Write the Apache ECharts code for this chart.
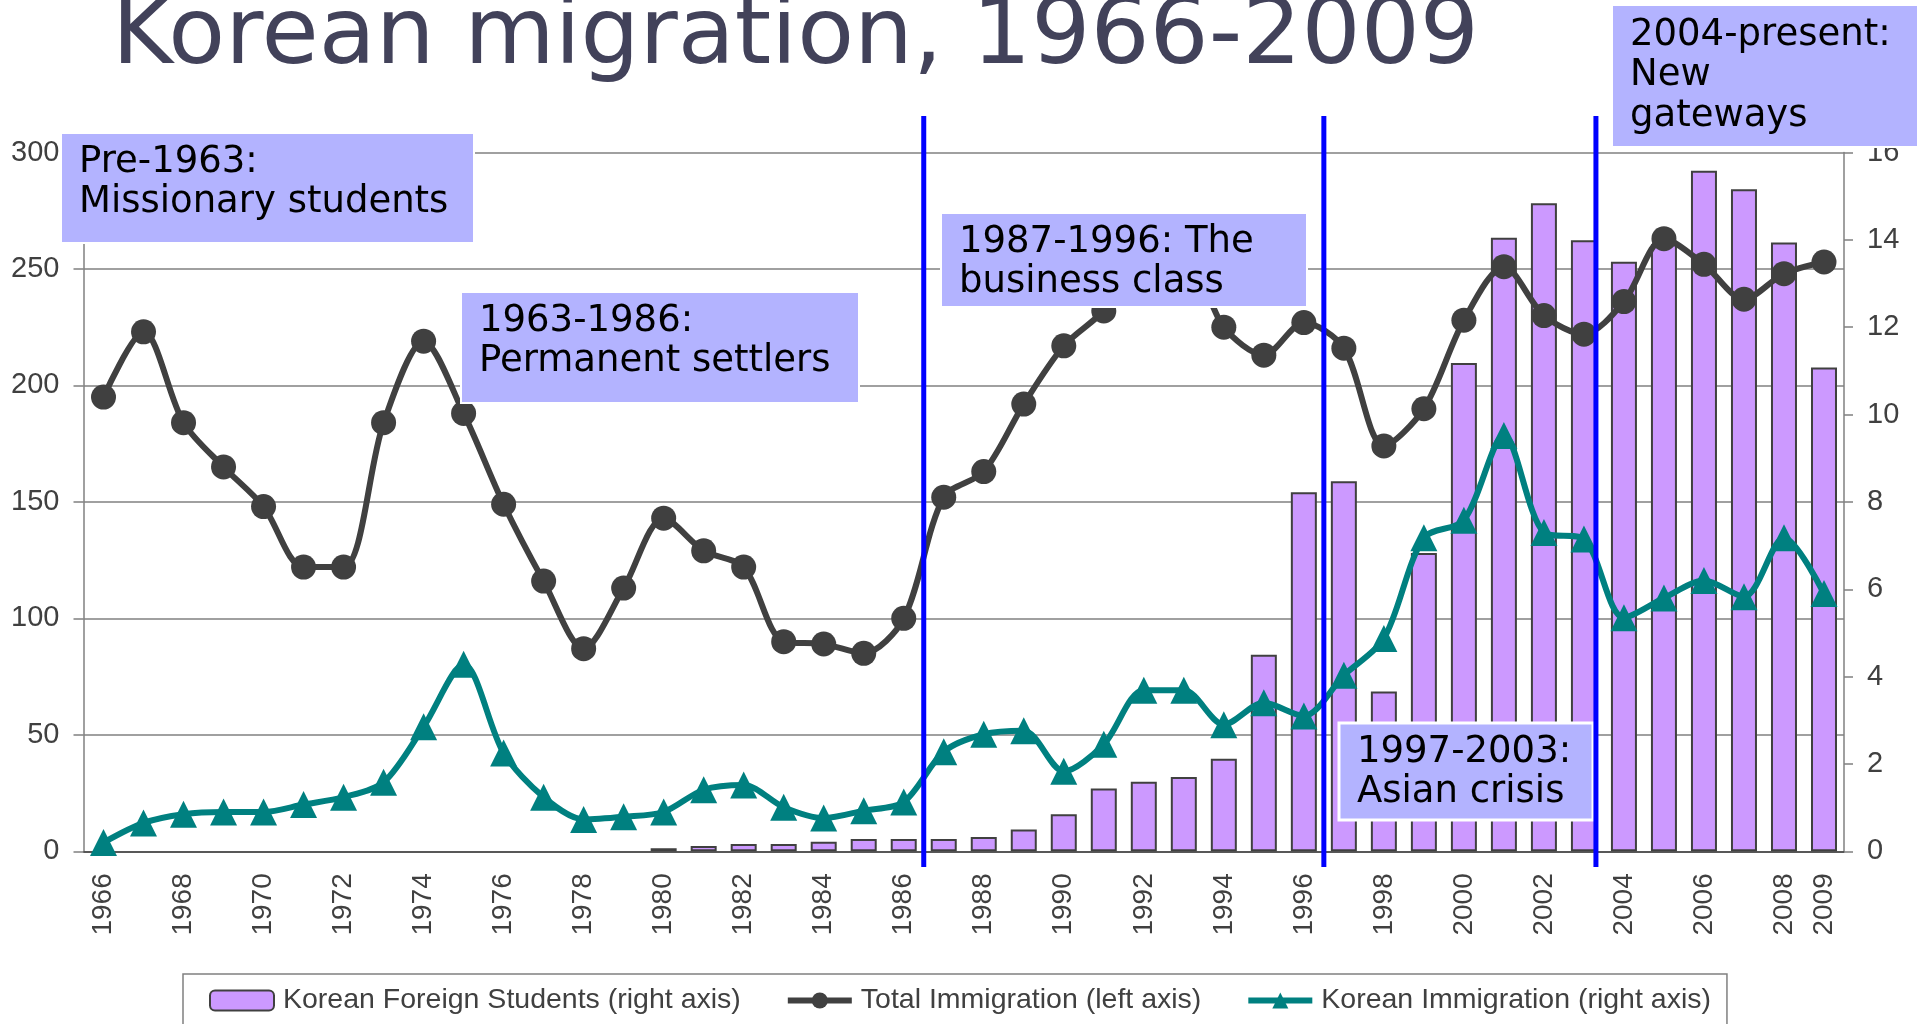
<!DOCTYPE html>
<html>
<head>
<meta charset="utf-8">
<title>Korean migration, 1966-2009</title>
<script src="https://cdn.jsdelivr.net/npm/echarts@6.0.0/dist/echarts.min.js"></script>
<style>
  html, body { margin: 0; padding: 0; background: #fff; }
  #chart { width: 1925px; height: 1024px; }
</style>
</head>
<body>
<div id="chart"></div>
<script>
const years = [
  '1966', '1967', '1968', '1969', '1970', '1971', '1972', '1973', '1974', '1975',
  '1976', '1977', '1978', '1979', '1980', '1981', '1982', '1983', '1984', '1985',
  '1986', '1987', '1988', '1989', '1990', '1991', '1992', '1993', '1994', '1995',
  '1996', '1997', '1998', '1999', '2000', '2001', '2002', '2003', '2004', '2005',
  '2006', '2007', '2008', '2009'
]

// thousands, left axis
const totalImmigration = [
  195, 223, 184, 165, 148, 122, 122, 184, 219, 188,
  149, 116, 87, 113, 143, 129, 122, 90, 89, 85,
  100, 152, 163, 192, 217, 232, 254, 256, 225, 213,
  227, 216, 174, 190, 228, 251, 230, 222, 236, 263,
  252, 237, 248, 253
]

// thousands, right axis
const koreanImmigration = [
  0.2, 0.65, 0.85, 0.9, 0.9, 1.07, 1.24, 1.58, 2.85, 4.28,
  2.25, 1.24, 0.73, 0.79, 0.9, 1.41, 1.52, 1.01, 0.76, 0.93,
  1.13, 2.28, 2.68, 2.76, 1.83, 2.45, 3.69, 3.69, 2.9, 3.4,
  3.1, 4.03, 4.87, 7.18, 7.58, 9.52, 7.3, 7.15, 5.35, 5.8,
  6.2, 5.83, 7.18, 5.9
]

// thousands, right axis (no bar before 1980)
const foreignStudents = [
  null, null, null, null, null, null, null, null, null, null,
  null, null, null, null, 0.07, 0.12, 0.17, 0.17, 0.22, 0.28,
  0.28, 0.28, 0.33, 0.5, 0.85, 1.44, 1.59, 1.7, 2.12, 4.5,
  8.22, 8.47, 3.66, 6.83, 11.18, 14.05, 14.84, 13.99, 13.5, 13.9,
  15.58, 15.16, 13.94, 11.08
]

const seriesNames = [
  'Korean Foreign Students (right axis)',
  'Total Immigration (left axis)',
  'Korean Immigration (right axis)'
]

// era boundaries, in years (x between two category centres)
const eraBreaks = [1986.5, 1996.5, 2003.3]

const eraLabels = [
  ['Pre-1963:', 'Missionary students'],
  ['1963-1986:', 'Permanent settlers'],
  ['1987-1996: The', 'business class'],
  ['2004-present:', 'New', 'gateways'],
  ['1997-2003:', 'Asian crisis']
]

const titleText = 'Korean migration, 1966-2009'

// box layout for each era label: [x, y, w, h, text offset top]
const eraBoxes = [
  [61, 133, 413, 110, 9],
  [461, 292, 398, 111, 9],
  [941, 213, 366, 94, 9],
  [1612, 5, 306, 142, 10],
  [1339, 723, 254, 97, 9]
]

const AXIS_FONT = 'Liberation Sans, Arial, sans-serif'
const BOX_FONT = 'DejaVu Sans, Verdana, sans-serif'
const labelColor = '#404040'
const gridColor = '#808080'

const chart = echarts.init(document.getElementById('chart'), null, { renderer: 'canvas' })

const option = {
  animation: false,
  backgroundColor: '#fff',
  grid: {
    left: 83.5,
    right: 81,
    top: 152.5,
    bottom: 172.7
  },
  legend: {
    data: seriesNames,
    left: 183,
    top: 974,
    padding: [12, 16, 14, 26],
    itemGap: 44,
    itemWidth: 64,
    itemHeight: 20,
    borderColor: gridColor,
    borderWidth: 1.5,
    lineStyle: { width: 6 },
    textStyle: {
      fontFamily: AXIS_FONT,
      fontSize: 28.5,
      color: labelColor,
      padding: [0, 0, 0, 4]
    }
  },
  xAxis: {
    type: 'category',
    data: years,
    boundaryGap: true,
    axisLine: { lineStyle: { color: labelColor, width: 1.5 } },
    axisTick: { interval: 0, length: 9, lineStyle: { color: gridColor, width: 1.5 } },
    axisLabel: {
      rotate: 90,
      margin: 22,
      fontFamily: AXIS_FONT,
      fontSize: 28,
      color: labelColor,
      interval: (i) => i % 2 === 0 || i === years.length - 1
    },
    splitLine: { show: false }
  },
  yAxis: [
    {
      type: 'value',
      min: 0,
      max: 300,
      interval: 50,
      axisLine: { show: true, lineStyle: { color: gridColor, width: 1.5 } },
      axisTick: { show: true, length: 10, lineStyle: { color: gridColor, width: 1.5 } },
      axisLabel: { margin: 24, fontFamily: AXIS_FONT, fontSize: 29, color: labelColor },
      splitLine: { lineStyle: { color: gridColor, width: 1.5 } }
    },
    {
      type: 'value',
      min: 0,
      max: 16,
      interval: 2,
      axisLine: { show: true, lineStyle: { color: gridColor, width: 1.5 } },
      axisTick: { show: true, length: 9, lineStyle: { color: gridColor, width: 1.5 } },
      axisLabel: { margin: 23, fontFamily: AXIS_FONT, fontSize: 29, color: labelColor },
      splitLine: { show: false }
    }
  ],
  series: [
    {
      name: seriesNames[0],
      type: 'bar',
      yAxisIndex: 1,
      data: foreignStudents,
      barWidth: 26,
      itemStyle: { color: '#CC99FF', borderColor: '#404040', borderWidth: 2 },
      z: 2
    },
    {
      name: seriesNames[1],
      type: 'line',
      yAxisIndex: 0,
      data: totalImmigration,
      smooth: 0.3,
      symbol: 'circle',
      symbolSize: 25,
      showAllSymbol: true,
      lineStyle: { color: '#404040', width: 6 },
      itemStyle: { color: '#404040' },
      z: 4
    },
    {
      name: seriesNames[2],
      type: 'line',
      yAxisIndex: 1,
      data: koreanImmigration,
      smooth: 0.3,
      symbol: 'triangle',
      symbolSize: 27,
      showAllSymbol: true,
      lineStyle: { color: '#008080', width: 6 },
      itemStyle: { color: '#008080' },
      z: 3
    }
  ]
}

chart.setOption(option)

// x of a fractional year, through the category axis
function yearToPixel (y) {
  const lo = Math.floor(y)
  const frac = y - lo
  const a = chart.convertToPixel({ xAxisIndex: 0 }, String(lo))
  const b = chart.convertToPixel({ xAxisIndex: 0 }, String(lo + 1))
  return a + frac * (b - a)
}

function buildGraphics () {
  const elements = []

  elements.push({
    type: 'text',
    x: 112,
    y: -8,
    z: 120,
    style: {
      text: titleText,
      font: '93px ' + BOX_FONT,
      fill: '#42425a',
      verticalAlign: 'top'
    }
  })

  eraBoxes.forEach((box, i) => {
    const [x, y, w, h, off] = box
    elements.push({
      type: 'rect',
      z: 110,
      shape: { x: x, y: y, width: w, height: h },
      style: { fill: '#B3B3FF', stroke: '#ffffff', lineWidth: i === 4 ? 3 : 2 }
    })
    elements.push({
      type: 'text',
      z: 111,
      x: x + 18,
      y: y + off,
      style: {
        text: eraLabels[i].join('\n'),
        font: '37px ' + BOX_FONT,
        lineHeight: 40.5,
        fill: '#000',
        verticalAlign: 'top'
      }
    })
  })

  eraBreaks.forEach((b) => {
    const x = yearToPixel(b)
    elements.push({
      type: 'line',
      z: 130,
      shape: { x1: x, y1: 116, x2: x, y2: 867 },
      style: { stroke: '#0000FF', lineWidth: 5 }
    })
  })

  return elements
}

chart.setOption({ graphic: { elements: buildGraphics() } })
</script>
</body>
</html>
